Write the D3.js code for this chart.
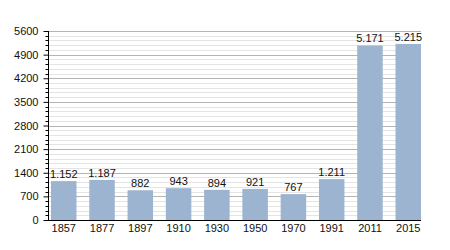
<!DOCTYPE html>
<html><head><meta charset="utf-8">
<script src="https://cdn.jsdelivr.net/npm/d3@7"></script>
<style>body{margin:0;background:#fff}svg{display:block}text{font-family:"Liberation Sans",Arial,sans-serif;}</style>
</head><body>
<script>
const years = ["1857","1877","1897","1910","1930","1950","1970","1991","2011","2015"];
const population = [1152,1187,882,943,894,921,767,1211,5171,5215];
const valueLabels = ["1.152","1.187","882","943","894","921","767","1.211","5.171","5.215"];
const yTicks = [0,700,1400,2100,2800,3500,4200,4900,5600];

const W=450,H=250;
const svg=d3.select("body").append("svg").attr("width",W).attr("height",H);
const axisX=48.5, plotR=421, plotTop=31, plotBottom=220;
const x=d3.scaleBand().domain(years).range([51,421]).paddingInner(0.334).paddingOuter(0);
const y=d3.scaleLinear().domain([0,5600]).range([plotBottom,plotTop]);

// minor grid
const minor=d3.range(0,5601,140).filter(v=>v%700!==0);
svg.append("g").selectAll("line").data(minor).join("line")
  .attr("x1",axisX).attr("x2",plotR).attr("y1",d=>Math.round(y(d))+0.5).attr("y2",d=>Math.round(y(d))+0.5)
  .attr("stroke","#e4e4e4").attr("stroke-width",1);
svg.append("g").selectAll("line").data(yTicks.filter(v=>v>0)).join("line")
  .attr("x1",axisX).attr("x2",plotR).attr("y1",d=>Math.round(y(d))+0.5).attr("y2",d=>Math.round(y(d))+0.5)
  .attr("stroke","#b4b4b4").attr("stroke-width",1);

// bars
svg.append("g").selectAll("rect").data(population).join("rect")
  .attr("x",(d,i)=>x(years[i])).attr("width",x.bandwidth())
  .attr("y",d=>y(d)).attr("height",d=>plotBottom-y(d))
  .attr("fill","#9cb4cf");

// value labels
svg.append("g").selectAll("text").data(population).join("text")
  .attr("x",(d,i)=>x(years[i])+x.bandwidth()/2).attr("y",d=>y(d)-3)
  .attr("text-anchor","middle").attr("font-size",11).attr("fill","#111")
  .text((d,i)=>valueLabels[i]);

// minor y ticks
svg.append("g").selectAll("line").data(minor).join("line")
  .attr("x1",axisX-3).attr("x2",axisX).attr("y1",d=>Math.round(y(d))+0.5).attr("y2",d=>Math.round(y(d))+0.5)
  .attr("stroke","#000");

// y axis
const ya=svg.append("g").attr("transform",`translate(${axisX},0)`)
  .call(d3.axisLeft(y).tickValues(yTicks).tickFormat(d=>String(d)).tickSize(5).tickPadding(5));
ya.select(".domain").attr("stroke","#000").attr("d",`M0,${plotTop}V${plotBottom}`);
ya.selectAll("text").attr("font-size",11).attr("fill","#111").attr("font-family","Liberation Sans, Arial, sans-serif");

// x axis
const xa=svg.append("g").attr("transform",`translate(0,${plotBottom+0.5})`)
  .call(d3.axisBottom(x).tickSize(0).tickPadding(4));
xa.select(".domain").attr("stroke","#000").attr("d",`M${axisX-3},0H${plotR}`);
xa.selectAll("text").attr("font-size",11).attr("fill","#111").attr("font-family","Liberation Sans, Arial, sans-serif");
</script>
</body></html>
